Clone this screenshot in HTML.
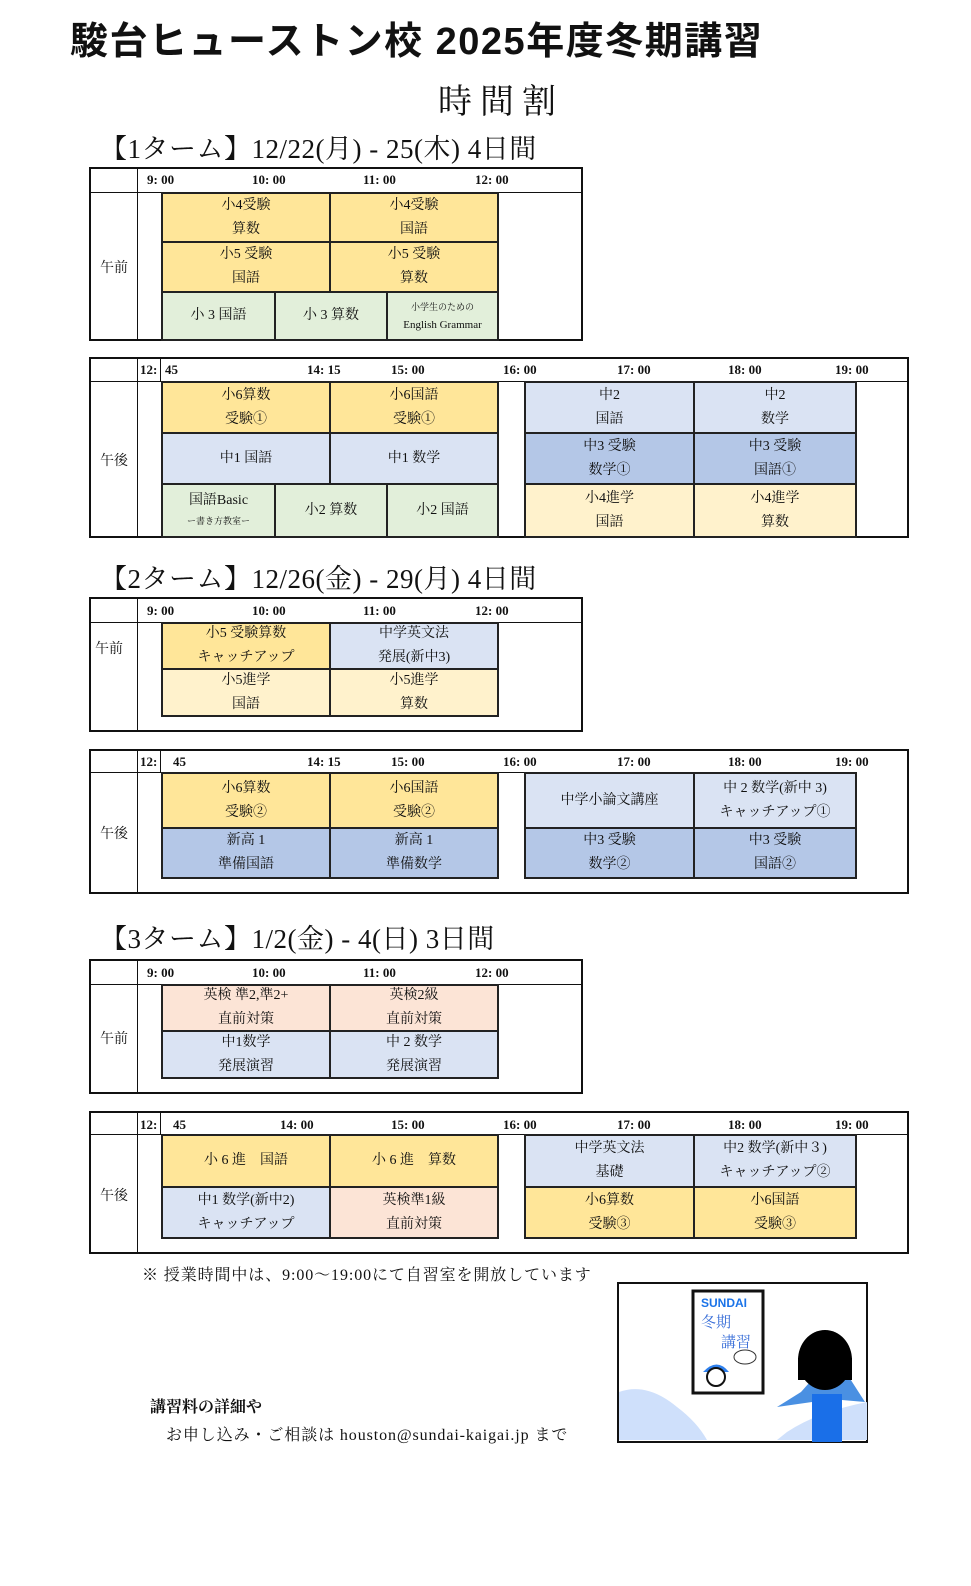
<!DOCTYPE html>
<html><head><meta charset="utf-8">
<style>
body{margin:0;background:#fff;width:971px;height:1586px;position:relative;overflow:hidden;font-family:"Liberation Serif","Noto Serif CJK SC",serif;color:#111}
.a{position:absolute}
.box{position:absolute;border:2px solid #111;box-sizing:border-box}
.l{position:absolute;background:#111}
.c{position:absolute;border:2px solid #222;box-sizing:border-box;display:flex;flex-direction:column;justify-content:center;align-items:center;font-size:14px;line-height:24px;text-align:center}
.t{position:absolute;font-size:13px;font-weight:bold;white-space:nowrap}
.h{position:absolute;font-size:27px;white-space:nowrap;left:100px;letter-spacing:0.5px}
.y{background:#ffe699}.b{background:#dae3f3}.m{background:#b4c7e7}.g{background:#e2efda}.p{background:#fff2cc}.k{background:#fce4d6}
.lab{position:absolute;font-size:14px}
</style></head><body>
<div class="a" style="left:70px;top:10px;font-family:'Liberation Sans','Noto Sans CJK JP',sans-serif;font-weight:bold;font-size:38px;letter-spacing:1.5px;white-space:nowrap">駿台ヒューストン校 2025年度冬期講習</div>
<div class="a" style="left:438px;top:74px;font-size:34px;letter-spacing:8px;white-space:nowrap">時間割</div>

<div class="h" style="top:127px">【1ターム】12/22(月) - 25(木) 4日間</div>
<div class="box" style="left:89px;top:167px;width:494px;height:174px"></div>
<div class="l" style="left:89px;top:192px;width:494px;height:1px"></div>
<div class="l" style="left:137px;top:167px;width:1px;height:174px"></div>
<div class="t" style="left:147px;top:172px">9: 00</div><div class="t" style="left:252px;top:172px">10: 00</div><div class="t" style="left:363px;top:172px">11: 00</div><div class="t" style="left:475px;top:172px">12: 00</div>
<div class="lab" style="left:100px;top:257px">午前</div>
<div class="c y" style="left:161px;top:192px;width:170px;height:51px">小4受験<br>算数</div>
<div class="c y" style="left:329px;top:192px;width:170px;height:51px">小4受験<br>国語</div>
<div class="c y" style="left:161px;top:241px;width:170px;height:52px">小5 受験<br>国語</div>
<div class="c y" style="left:329px;top:241px;width:170px;height:52px">小5 受験<br>算数</div>
<div class="c g" style="left:161px;top:291px;width:115px;height:50px">小 3 国語</div>
<div class="c g" style="left:274px;top:291px;width:114px;height:50px">小 3 算数</div>
<div class="c g" style="left:386px;top:291px;width:113px;height:50px;line-height:18px"><span style="font-size:9px">小学生のための</span><span style="font-size:11px">English Grammar</span></div>

<div class="box" style="left:89px;top:357px;width:820px;height:181px"></div>
<div class="l" style="left:89px;top:381px;width:820px;height:1px"></div>
<div class="l" style="left:137px;top:357px;width:1px;height:181px"></div>
<div class="l" style="left:160px;top:357px;width:1px;height:25px"></div>
<div class="t" style="left:140px;top:362px">12:</div><div class="t" style="left:165px;top:362px">45</div><div class="t" style="left:307px;top:362px">14: 15</div><div class="t" style="left:391px;top:362px">15: 00</div><div class="t" style="left:503px;top:362px">16: 00</div><div class="t" style="left:617px;top:362px">17: 00</div><div class="t" style="left:728px;top:362px">18: 00</div><div class="t" style="left:835px;top:362px">19: 00</div>
<div class="lab" style="left:100px;top:450px">午後</div>
<div class="c y" style="left:161px;top:381px;width:170px;height:53px">小6算数<br>受験①</div>
<div class="c y" style="left:329px;top:381px;width:170px;height:53px">小6国語<br>受験①</div>
<div class="c b" style="left:161px;top:432px;width:170px;height:53px">中1 国語</div>
<div class="c b" style="left:329px;top:432px;width:170px;height:53px">中1 数学</div>
<div class="c g" style="left:161px;top:483px;width:115px;height:55px;line-height:20px"><span>国語Basic</span><span style="font-size:9px">ー書き方教室ー</span></div>
<div class="c g" style="left:274px;top:483px;width:114px;height:55px">小2 算数</div>
<div class="c g" style="left:386px;top:483px;width:113px;height:55px">小2 国語</div>
<div class="c b" style="left:524px;top:381px;width:171px;height:53px">中2<br>国語</div>
<div class="c b" style="left:693px;top:381px;width:164px;height:53px">中2<br>数学</div>
<div class="c m" style="left:524px;top:432px;width:171px;height:53px">中3 受験<br>数学①</div>
<div class="c m" style="left:693px;top:432px;width:164px;height:53px">中3 受験<br>国語①</div>
<div class="c p" style="left:524px;top:483px;width:171px;height:55px">小4進学<br>国語</div>
<div class="c p" style="left:693px;top:483px;width:164px;height:55px">小4進学<br>算数</div>

<div class="h" style="top:557px">【2ターム】12/26(金) - 29(月) 4日間</div>
<div class="box" style="left:89px;top:597px;width:494px;height:135px"></div>
<div class="l" style="left:89px;top:622px;width:494px;height:1px"></div>
<div class="l" style="left:137px;top:597px;width:1px;height:135px"></div>
<div class="t" style="left:147px;top:603px">9: 00</div><div class="t" style="left:252px;top:603px">10: 00</div><div class="t" style="left:363px;top:603px">11: 00</div><div class="t" style="left:475px;top:603px">12: 00</div>
<div class="lab" style="left:95px;top:638px">午前</div>
<div class="c y" style="left:161px;top:622px;width:170px;height:48px">小5 受験算数<br>キャッチアップ</div>
<div class="c b" style="left:329px;top:622px;width:170px;height:48px">中学英文法<br>発展(新中3)</div>
<div class="c p" style="left:161px;top:668px;width:170px;height:49px">小5進学<br>国語</div>
<div class="c p" style="left:329px;top:668px;width:170px;height:49px">小5進学<br>算数</div>

<div class="box" style="left:89px;top:749px;width:820px;height:145px"></div>
<div class="l" style="left:89px;top:772px;width:766px;height:1px"></div>
<div class="l" style="left:137px;top:749px;width:1px;height:145px"></div>
<div class="l" style="left:160px;top:749px;width:1px;height:24px"></div>
<div class="t" style="left:140px;top:754px">12:</div><div class="t" style="left:173px;top:754px">45</div><div class="t" style="left:307px;top:754px">14: 15</div><div class="t" style="left:391px;top:754px">15: 00</div><div class="t" style="left:503px;top:754px">16: 00</div><div class="t" style="left:617px;top:754px">17: 00</div><div class="t" style="left:728px;top:754px">18: 00</div><div class="t" style="left:835px;top:754px">19: 00</div>
<div class="lab" style="left:100px;top:823px">午後</div>
<div class="c y" style="left:161px;top:772px;width:170px;height:57px">小6算数<br>受験②</div>
<div class="c y" style="left:329px;top:772px;width:170px;height:57px">小6国語<br>受験②</div>
<div class="c m" style="left:161px;top:827px;width:170px;height:52px">新高 1<br>準備国語</div>
<div class="c m" style="left:329px;top:827px;width:170px;height:52px">新高 1<br>準備数学</div>
<div class="c b" style="left:524px;top:772px;width:171px;height:57px">中学小論文講座</div>
<div class="c b" style="left:693px;top:772px;width:164px;height:57px">中 2 数学(新中 3)<br>キャッチアップ①</div>
<div class="c m" style="left:524px;top:827px;width:171px;height:52px">中3 受験<br>数学②</div>
<div class="c m" style="left:693px;top:827px;width:164px;height:52px">中3 受験<br>国語②</div>

<div class="h" style="top:917px">【3ターム】1/2(金) - 4(日) 3日間</div>
<div class="box" style="left:89px;top:959px;width:494px;height:135px"></div>
<div class="l" style="left:89px;top:984px;width:494px;height:1px"></div>
<div class="l" style="left:137px;top:959px;width:1px;height:135px"></div>
<div class="t" style="left:147px;top:965px">9: 00</div><div class="t" style="left:252px;top:965px">10: 00</div><div class="t" style="left:363px;top:965px">11: 00</div><div class="t" style="left:475px;top:965px">12: 00</div>
<div class="lab" style="left:100px;top:1028px">午前</div>
<div class="c k" style="left:161px;top:984px;width:170px;height:48px">英検 準2,準2+<br>直前対策</div>
<div class="c k" style="left:329px;top:984px;width:170px;height:48px">英検2級<br>直前対策</div>
<div class="c b" style="left:161px;top:1030px;width:170px;height:49px">中1数学<br>発展演習</div>
<div class="c b" style="left:329px;top:1030px;width:170px;height:49px">中 2 数学<br>発展演習</div>

<div class="box" style="left:89px;top:1111px;width:820px;height:143px"></div>
<div class="l" style="left:89px;top:1134px;width:820px;height:1px"></div>
<div class="l" style="left:137px;top:1111px;width:1px;height:143px"></div>
<div class="l" style="left:160px;top:1111px;width:1px;height:24px"></div>
<div class="t" style="left:140px;top:1117px">12:</div><div class="t" style="left:173px;top:1117px">45</div><div class="t" style="left:280px;top:1117px">14: 00</div><div class="t" style="left:391px;top:1117px">15: 00</div><div class="t" style="left:503px;top:1117px">16: 00</div><div class="t" style="left:617px;top:1117px">17: 00</div><div class="t" style="left:728px;top:1117px">18: 00</div><div class="t" style="left:835px;top:1117px">19: 00</div>
<div class="lab" style="left:100px;top:1185px">午後</div>
<div class="c y" style="left:161px;top:1134px;width:170px;height:54px">小 6 進　国語</div>
<div class="c y" style="left:329px;top:1134px;width:170px;height:54px">小 6 進　算数</div>
<div class="c b" style="left:161px;top:1186px;width:170px;height:53px">中1 数学(新中2)<br>キャッチアップ</div>
<div class="c k" style="left:329px;top:1186px;width:170px;height:53px">英検準1級<br>直前対策</div>
<div class="c b" style="left:524px;top:1134px;width:171px;height:54px">中学英文法<br>基礎</div>
<div class="c b" style="left:693px;top:1134px;width:164px;height:54px">中2 数学(新中３)<br>キャッチアップ②</div>
<div class="c y" style="left:524px;top:1186px;width:171px;height:53px">小6算数<br>受験③</div>
<div class="c y" style="left:693px;top:1186px;width:164px;height:53px">小6国語<br>受験③</div>

<div class="a" style="left:142px;top:1262px;font-size:16px;letter-spacing:0.9px;white-space:nowrap">※ 授業時間中は、9:00～19:00にて自習室を開放しています</div>
<div class="a" style="left:150px;top:1394px;font-size:16px;font-weight:bold;white-space:nowrap">講習料の詳細や</div>
<div class="a" style="left:166px;top:1422px;font-size:16px;letter-spacing:0.9px;white-space:nowrap">お申し込み・ご相談は houston@sundai-kaigai.jp まで</div>

<svg class="a" style="left:617px;top:1282px" width="252" height="162" viewBox="0 0 252 162">
<rect x="1" y="1" width="249" height="159" fill="#fff" stroke="#111" stroke-width="2"/>
<path d="M2 110 Q30 100 60 125 Q80 140 90 158 L2 158Z" fill="#cfe0fb"/>
<path d="M170 150 Q200 130 250 120 L250 158 L160 158Z" fill="#cfe0fb"/>
<rect x="76" y="9" width="70" height="102" fill="#fff" stroke="#111" stroke-width="3"/>
<text x="84" y="25" font-family="Liberation Sans" font-weight="bold" font-size="12" fill="#1a73e8">SUNDAI</text>
<text x="84" y="45" font-size="15" fill="#3a6fd8">冬期</text>
<text x="104" y="65" font-size="15" fill="#3a6fd8">講習</text>
<ellipse cx="128" cy="75" rx="11" ry="7" fill="#fff" stroke="#333"/>
<path d="M86 90 Q100 75 112 90Z" fill="#2f80ed"/>
<circle cx="99" cy="95" r="9" fill="#fff" stroke="#111" stroke-width="2"/>
<path d="M184 110 L200 92 L230 92 L248 120 L225 118 L222 160 L195 160 L195 120 L160 125Z" fill="#4a90e2"/>
<rect x="195" y="112" width="30" height="48" fill="#1a6fe8"/>
<ellipse cx="208" cy="78" rx="27" ry="30" fill="#000"/>
<rect x="181" y="76" width="54" height="22" fill="#000"/>
</svg>
</body></html>
